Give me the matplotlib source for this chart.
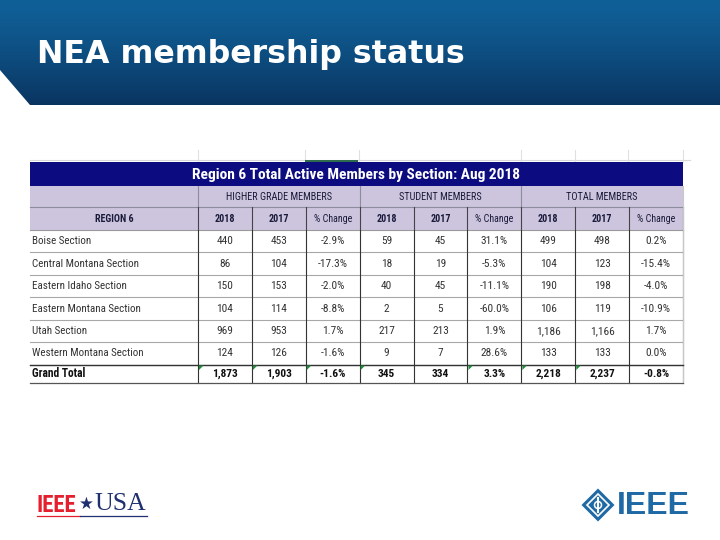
import matplotlib
matplotlib.use("Agg")
import matplotlib.pyplot as plt
from matplotlib.patches import Rectangle, Polygon
from matplotlib import font_manager
import numpy as np

# ---------------- data ----------------
slide_title = "NEA membership status"
table_title = "Region 6 Total Active Members by Section: Aug 2018"
group_labels = ["HIGHER GRADE MEMBERS", "STUDENT MEMBERS", "TOTAL MEMBERS"]
sub_headers = ["2018", "2017", "% Change"]
row_label_header = "REGION 6"
sections = ["Boise Section", "Central Montana Section", "Eastern Idaho Section",
            "Eastern Montana Section", "Utah Section", "Western Montana Section"]
hg_2018 = [440, 86, 150, 104, 969, 124]
hg_2017 = [453, 104, 153, 114, 953, 126]
hg_change = [-2.9, -17.3, -2.0, -8.8, 1.7, -1.6]
st_2018 = [59, 18, 40, 2, 217, 9]
st_2017 = [45, 19, 45, 5, 213, 7]
st_change = [31.1, -5.3, -11.1, -60.0, 1.9, 28.6]
tot_2018 = [499, 104, 190, 106, 1186, 133]
tot_2017 = [498, 123, 198, 119, 1166, 133]
tot_change = [0.2, -15.4, -4.0, -10.9, 1.7, 0.0]
grand_total_label = "Grand Total"
gt_2018 = [1873, 345, 2218]
gt_2017 = [1903, 334, 2237]
gt_change = [-1.6, 3.3, -0.8]

# ---------------- fonts ----------------
installed = {f.name for f in font_manager.fontManager.ttflist}
NARROW = [f for f in ["Roboto Condensed", "Liberation Sans Narrow", "Liberation Sans"]
          if f in installed] or ["DejaVu Sans"]
k = 1.0 if NARROW[0] in ("Roboto Condensed", "Liberation Sans Narrow") else 0.85

# ---------------- figure ----------------
W, H = 720, 540
fig = plt.figure(figsize=(7.2, 5.4), dpi=100)
ax = fig.add_axes([0, 0, 1, 1])
ax.set_xlim(0, W)
ax.set_ylim(H, 0)
ax.axis("off")
fig.patch.set_facecolor("white")

# banner with gradient
banner = Polygon([(0, 0), (W, 0), (W, 105), (30, 105), (0, 70)], closed=True,
                 facecolor="none", edgecolor="none")
ax.add_patch(banner)
grad = np.linspace(0, 1, 256).reshape(-1, 1)
top = np.array([16, 96, 152]) / 255
bot = np.array([10, 52, 96]) / 255
img = top + (bot - top) * grad[..., None] ** 1.3
img = np.repeat(img, 2, axis=1)
im = ax.imshow(img, extent=[0, W, 105, 0], aspect="auto", zorder=1)
im.set_clip_path(banner)
ax.text(37, 54, slide_title, color="white", fontsize=22.8, fontweight="bold",
        family="DejaVu Sans", va="center", ha="left", zorder=3)

# ---------------- table geometry ----------------
X0, XL, X1 = 30, 198, 683
ncol = 9
cw = (X1 - XL) / ncol
col_edges = [XL + i * cw for i in range(ncol + 1)]
Y_TITLE = (162, 186)
Y_GROUP = (186, 207)
Y_HEAD = (207, 230)
row_h = (364.7 - 230) / len(sections)
row_edges = [230 + i * row_h for i in range(len(sections) + 1)]
Y_GT = (row_edges[-1], 383)

HEAD_BG = "#cdc5de"
NAVY = "#0c0c80"
TXT = "#333333"
HTXT = "#1a1a3a"

# faint excel grid above table
ax.plot([X0, 690], [160, 160], color="#d8d8d8", lw=0.8, zorder=2)
for x in [198, 305, 359, 521, 575, 628, 683]:
    ax.plot([x, x], [150, 162], color="#e0e0e0", lw=0.8, zorder=2)
ax.add_patch(Rectangle((305, 159.5), 53, 3, facecolor="#2e6b4f", edgecolor="none", zorder=3))

# title bar
ax.add_patch(Rectangle((X0, Y_TITLE[0]), X1 - X0, Y_TITLE[1] - Y_TITLE[0],
                       facecolor=NAVY, edgecolor="none", zorder=3))
ax.text(356, sum(Y_TITLE) / 2 + 0.5, table_title, color="white",
        fontsize=11.1 * k, fontweight="bold", family=NARROW,
        ha="center", va="center", zorder=4)

# header rows
fs_head = 7.2 * k
ax.add_patch(Rectangle((X0, Y_GROUP[0]), X1 - X0, Y_HEAD[1] - Y_GROUP[0],
                       facecolor=HEAD_BG, edgecolor="none", zorder=3))
for g, lab in enumerate(group_labels):
    xa, xb = col_edges[3 * g], col_edges[3 * g + 3]
    ax.text((xa + xb) / 2, sum(Y_GROUP) / 2, lab, color=HTXT, fontsize=fs_head * 1.03,
            family=NARROW, ha="center", va="center", zorder=4)
    ax.plot([xa, xa], Y_GROUP, color="#8c8c9c", lw=0.8, zorder=4)
ax.plot([X0, X1], [Y_GROUP[1], Y_GROUP[1]], color="#8c8c9c", lw=0.8, zorder=4)
ax.text((X0 + XL) / 2, sum(Y_HEAD) / 2, row_label_header, color=HTXT, fontsize=fs_head,
        family=NARROW, fontweight="bold", ha="center", va="center", zorder=4)
for i in range(ncol):
    ax.text((col_edges[i] + col_edges[i + 1]) / 2, sum(Y_HEAD) / 2, sub_headers[i % 3],
            color=HTXT, fontsize=fs_head, family=NARROW,
            fontweight="bold" if i % 3 != 2 else "normal",
            ha="center", va="center", zorder=4)
for x in col_edges:
    ax.plot([x, x], Y_HEAD, color="#444444", lw=0.8, zorder=4)
ax.plot([X0, X1], [Y_HEAD[1], Y_HEAD[1]], color="#9a9a9a", lw=0.8, zorder=4)

# body
def fmt_int(v):
    return f"{v:,}"

def fmt_pct(v):
    return f"{v:.1f}%"

columns = [hg_2018, hg_2017, hg_change, st_2018, st_2017, st_change,
           tot_2018, tot_2017, tot_change]
gt_cols = [gt_2018[0], gt_2017[0], gt_change[0], gt_2018[1], gt_2017[1], gt_change[1],
           gt_2018[2], gt_2017[2], gt_change[2]]

fs_lab = 7.9 * k
fs_num = 8.2 * k
for r, name in enumerate(sections):
    yc = (row_edges[r] + row_edges[r + 1]) / 2
    ax.text(X0 + 1.5, yc, name, color=TXT, fontsize=fs_lab, family=NARROW,
            ha="left", va="center", zorder=4)
    for c in range(ncol):
        v = columns[c][r]
        s = fmt_pct(v) if c % 3 == 2 else fmt_int(v)
        ax.text((col_edges[c] + col_edges[c + 1]) / 2, yc, s, color=TXT, fontsize=fs_num,
                family=NARROW, ha="center", va="center", zorder=4)
    ax.plot([X0, X1], [row_edges[r + 1], row_edges[r + 1]], color="#a8a8a8", lw=0.8, zorder=4)

ygt = sum(Y_GT) / 2
ax.text(X0 + 1.5, ygt, grand_total_label, color="#111111", fontsize=fs_lab * 1.05,
        fontweight="bold", family=NARROW, ha="left", va="center", zorder=4)
for c in range(ncol):
    v = gt_cols[c]
    s = fmt_pct(v) if c % 3 == 2 else fmt_int(v)
    ax.text((col_edges[c] + col_edges[c + 1]) / 2, ygt, s, color="#111111", fontsize=fs_num,
            fontweight="bold", family=NARROW, ha="center", va="center", zorder=4)
ax.plot([X0, X1], [Y_GT[0], Y_GT[0]], color="#333333", lw=1.0, zorder=5)
ax.plot([X0, X1], [Y_GT[1], Y_GT[1]], color="#555555", lw=0.9, zorder=5)

for x in col_edges:
    ax.plot([x, x], [Y_HEAD[1], Y_GT[1]], color="#333333", lw=0.8, zorder=4)
ax.plot([X1, X1], [Y_GROUP[0], Y_GT[1]], color="#c8c8c8", lw=0.8, zorder=4)

# excel green error markers in grand total row
for c in [0, 1, 2, 3, 5, 6, 7]:
    x = col_edges[c] + 1
    y = Y_GT[0] + 0.8
    ax.add_patch(Polygon([(x, y), (x + 4.5, y), (x, y + 4.5)], closed=True,
                         facecolor="#1e8a3a", edgecolor="none", zorder=6))

# ---------------- logos ----------------
ax.text(37, 505, "IEEE", color="#e4202e", fontsize=16.5, fontweight="bold",
        family=NARROW, ha="left", va="center", zorder=4)
ax.text(86.5, 504, "\u2605", color="#1f2f6f", fontsize=12, family="DejaVu Sans",
        ha="center", va="center", zorder=4)
ax.text(94, 503.5, "USA", color="#1f2f6f", fontsize=18.5, family="Liberation Serif",
        ha="left", va="center", zorder=4)
ax.plot([37, 80], [516, 516], color="#e4202e", lw=0.9, zorder=4)
ax.plot([80, 147], [516, 516], color="#1f2f6f", lw=0.9, zorder=4)

cx, cy, hw = 598, 505, 16.5
ax.add_patch(Polygon([(cx - hw, cy), (cx, cy - hw), (cx + hw, cy), (cx, cy + hw)],
                     closed=True, facecolor="#1f6aa5", edgecolor="none", zorder=4))
hw2 = 11
ax.add_patch(Polygon([(cx - hw2, cy), (cx, cy - hw2), (cx + hw2, cy), (cx, cy + hw2)],
                     closed=True, facecolor="none", edgecolor="white", lw=1.2, zorder=5))
ax.plot([cx, cx], [cy - 7, cy + 7], color="white", lw=1.5, zorder=6)
ax.add_patch(plt.Circle((cx, cy), 3.5, facecolor="none", edgecolor="white", lw=1.1, zorder=6))
ax.text(617, 506, "IEEE", color="#1f6aa5", fontsize=23, fontweight="bold",
        family="Liberation Sans", ha="left", va="center", zorder=4)

fig.savefig("out.png", dpi=100, facecolor="white")
